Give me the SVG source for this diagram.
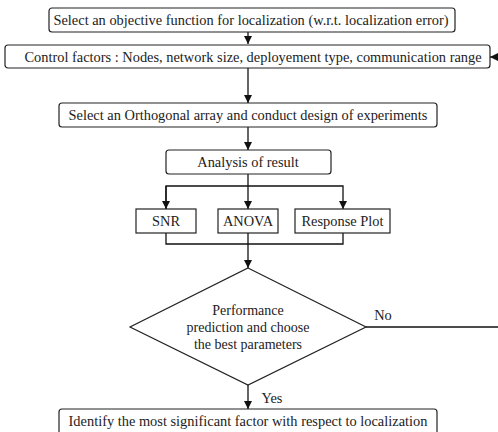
<svg xmlns="http://www.w3.org/2000/svg" width="498" height="432" viewBox="0 0 498 432">
<style>
.box{fill:#fff;stroke:#222;stroke-width:1.2}
.t{font-family:"Liberation Serif","Times New Roman",serif;font-size:14.4px;fill:#222;text-anchor:middle}
.d{font-size:14px}
.c{fill:none;stroke:#111;stroke-width:1.3}
</style>
<defs>
<marker id="ah" viewBox="0 0 10 10" refX="10" refY="5" markerWidth="8" markerHeight="8" markerUnits="userSpaceOnUse" orient="auto">
<path d="M0,0 L10,5 L0,10 z" fill="#111"/>
</marker>
</defs>
<rect width="498" height="432" fill="#fff"/>
<g id="connectors">
<path class="c" d="M248,32 V44" marker-end="url(#ah)"/>
<path class="c" d="M248,68 V103" marker-end="url(#ah)"/>
<path class="c" d="M248,127 V150" marker-end="url(#ah)"/>
<path class="c" d="M248,174 V209" marker-end="url(#ah)"/>
<path class="c" d="M166,209 V186 H343 V209" marker-end="url(#ah)"/>
<path class="c" d="M166,186 V209" marker-end="url(#ah)"/>
<path class="c" d="M166,233 V244 H343 V233"/>
<path class="c" d="M248,233 V268" marker-end="url(#ah)"/>
<path class="c" d="M248,385 V409" marker-end="url(#ah)"/>
<path class="c" d="M366,327 H498"/>
<path class="c" d="M498,57 H490" marker-end="url(#ah)"/>
<text class="t" x="383" y="320">No</text>
<text class="t" x="272" y="403">Yes</text>
</g>
<g id="n1">
<rect class="box" x="49" y="8" width="406" height="24" rx="3"/>
<text class="t" x="251" y="25">Select an objective function for localization  (w.r.t. localization error)</text>
</g>
<g id="n2">
<rect class="box" x="5" y="45" width="485" height="23" rx="3"/>
<text class="t" x="253" y="61.5">Control factors : Nodes, network size, deployement type, communication range</text>
</g>
<g id="n3">
<rect class="box" x="59" y="103" width="378" height="24" rx="3"/>
<text class="t" x="248" y="120">Select an Orthogonal array and conduct design of experiments</text>
</g>
<g id="n4">
<rect class="box" x="166" y="150" width="165" height="24" rx="3"/>
<text class="t" x="248" y="167">Analysis of result</text>
</g>
<g id="n5">
<rect class="box" x="136" y="209" width="60" height="24"/>
<text class="t" x="166" y="226">SNR</text>
</g>
<g id="n6">
<rect class="box" x="218" y="209" width="60" height="24"/>
<text class="t" x="248" y="226">ANOVA</text>
</g>
<g id="n7">
<rect class="box" x="295" y="209" width="95" height="24"/>
<text class="t" x="342.5" y="226">Response Plot</text>
</g>
<g id="n8">
<polygon class="box" points="248,268 366,327 248,385 130,327"/>
<text class="t d" x="248" y="315">Performance</text>
<text class="t d" x="248" y="332">prediction and choose</text>
<text class="t d" x="248" y="349">the best parameters</text>
</g>
<g id="n9">
<rect class="box" x="59" y="409" width="378" height="26" rx="3"/>
<text class="t" x="248" y="425.5">Identify the most significant factor with respect to localization</text>
</g>
</svg>
